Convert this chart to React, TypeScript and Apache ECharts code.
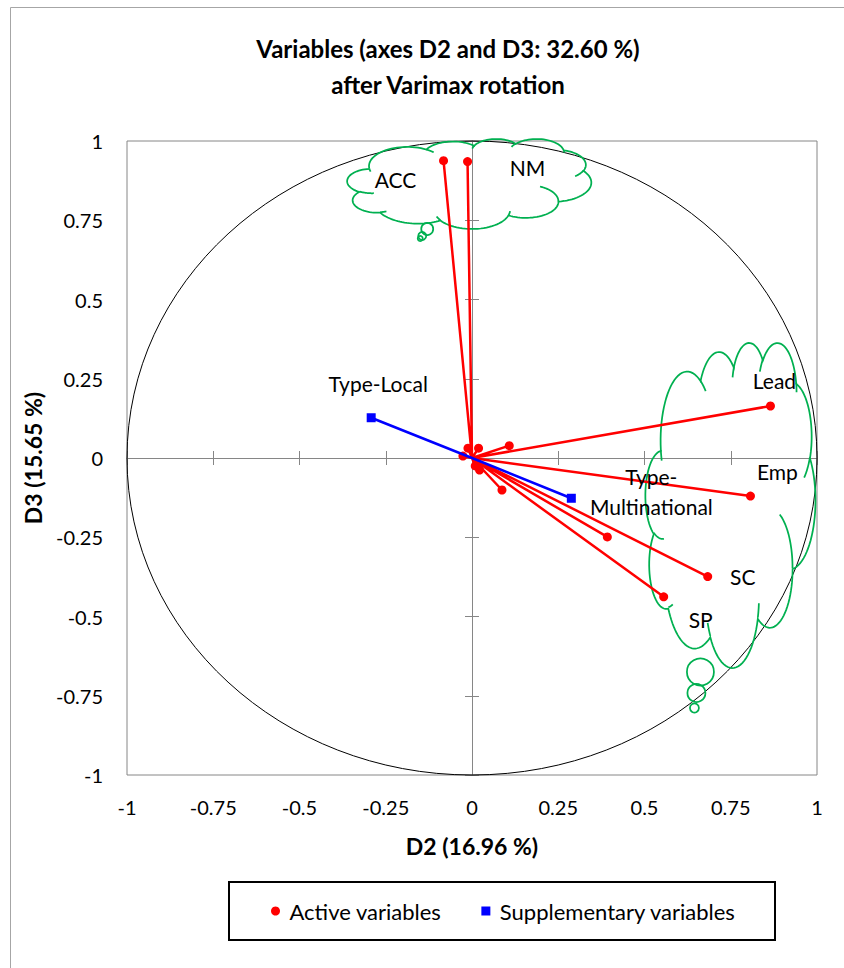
import React, { useEffect, useRef } from 'react';
import * as echarts from 'echarts';

// ---------- data ----------
const activeNames = ['ACC', 'NM', 'Lead', 'Emp', 'SC', 'SP', '', '', '', '', '', '', '', ''];
const activeX = [-0.0825, -0.0129, 0.8651, 0.8071, 0.6832, 0.5556, 0.3923, 0.0869, 0.108, -0.0117, 0.019, -0.0263, 0.0094, 0.0219];
const activeY = [0.938, 0.935, 0.164, -0.12, -0.374, -0.438, -0.249, -0.101, 0.039, 0.031, 0.031, 0.006, -0.025, -0.038];

const supNames = ['Type-Local', 'Type-\nMultinational'];
const supX = [-0.2922, 0.2879];
const supY = [0.127, -0.127];

const axisMin = -1;
const axisMax = 1;
const axisStep = 0.25;

const seriesNames = ['Active variables', 'Supplementary variables'];

// ---------- styling / annotation geometry ----------
const LABEL_OFFSETS: Record<string, [number, number]> = {
  ACC: [-48, 19],
  NM: [60, 6],
  Lead: [4, -26],
  Emp: [27, -25],
  SC: [35, 0],
  SP: [37, 23],
  'Type-Local': [7, -34],
  'Type-\nMultinational': [80, -7],
};

// cloud callouts (boxes in data coordinates) and their tail bubbles
const CLOUDS = [
  { x0: -0.3619, x1: 0.3459, y0: 1.0063, y1: 0.7224, tail: [[-0.1298, 0.7224, 6], [-0.1443, 0.7003, 4], [-0.1501, 0.6924, 2.5]] },
  { x0: 0.5025, x1: 0.9956, y0: 0.3628, y1: -0.6625, tail: [[0.6621, -0.6751, 13.5], [0.6505, -0.7413, 9], [0.6447, -0.7886, 4.5]] },
];

// Office "cloud" preset geometry (43200 x 43200 space)
const CLOUD_START = [3900, 14370];
const CLOUD_ARCS = [
  [6753, 9190, -11429249, 7426832],
  [5333, 7267, -8646143, 5396714],
  [4365, 5945, -8748475, 5983381],
  [4857, 6595, -7859164, 7034504],
  [5333, 7273, -4722533, 6541615],
  [6775, 9220, -2776035, 7816140],
  [5785, 7867, 37501, 6842000],
  [6752, 9215, 1347096, 6910353],
  [7720, 10543, 3974558, 4542661],
  [4360, 5918, -16496525, 8804134],
  [4345, 5945, -14809710, 9151131],
];
const CLOUD_CREASES = [
  [4693, 26177, 4345, 5945, 5204520, 1585770],
  [6928, 34899, 4360, 5918, 4416628, 686848],
  [16478, 39090, 6752, 9215, 8257449, 844866],
  [28827, 34751, 6752, 9215, 387196, 959901],
  [34129, 22954, 5785, 7867, -4217541, 4255042],
  [41798, 15354, 5333, 7273, 1819082, 1665090],
  [38324, 5426, 4857, 6595, -824660, 891534],
  [29078, 3952, 4857, 6595, -8950887, 1091722],
  [22141, 4720, 4365, 5945, -9809656, 1061181],
  [14000, 5192, 6753, 9190, -4002417, 739161],
  [4127, 15789, 6753, 9190, 9459261, 711490],
];

const FONT = 'Lato';
const RED = '#FF0000';
const BLUE = '#0000FF';
const GREEN = '#00B050';
const AXIS_GRAY = '#868686';

const DEG = Math.PI / 180;
function skew(theta: number, wR: number, hR: number) {
  let t = Math.atan2(wR * Math.sin(theta), hR * Math.cos(theta));
  t += 2 * Math.PI * Math.round((theta - t) / (2 * Math.PI));
  return t;
}
function arcTo(x0: number, y0: number, wR: number, hR: number, st: number, sw: number, pts: number[][]) {
  const th0 = (st / 60000) * DEG;
  const th1 = ((st + sw) / 60000) * DEG;
  const t0 = skew(th0, wR, hR);
  const t1 = skew(th1, wR, hR);
  const cx = x0 - wR * Math.cos(t0);
  const cy = y0 - hR * Math.sin(t0);
  const n = 28;
  for (let i = 1; i <= n; i++) {
    const t = t0 + ((t1 - t0) * i) / n;
    pts.push([cx + wR * Math.cos(t), cy + hR * Math.sin(t)]);
  }
  return pts[pts.length - 1];
}
function cloudGeometry() {
  const outline: number[][] = [[CLOUD_START[0], CLOUD_START[1]]];
  let cur = outline[0];
  for (const a of CLOUD_ARCS) cur = arcTo(cur[0], cur[1], a[0], a[1], a[2], a[3], outline);
  outline.push([CLOUD_START[0], CLOUD_START[1]]);
  const creases = CLOUD_CREASES.map((c) => {
    const p: number[][] = [[c[0], c[1]]];
    arcTo(c[0], c[1], c[2], c[3], c[4], c[5], p);
    return p;
  });
  let minX = Infinity, maxX = -Infinity, minY = Infinity, maxY = -Infinity;
  for (const p of outline) {
    minX = Math.min(minX, p[0]); maxX = Math.max(maxX, p[0]);
    minY = Math.min(minY, p[1]); maxY = Math.max(maxY, p[1]);
  }
  return { outline, creases, minX, maxX, minY, maxY };
}

function vectorData(names: string[], xs: number[], ys: number[]) {
  const out: any[] = [];
  names.forEach((n, i) => {
    out.push({ value: [0, 0], symbol: 'none', label: { show: false } });
    out.push({
      value: [xs[i], ys[i]],
      name: n,
      label: n
        ? { show: true, formatter: n, position: 'inside', offset: LABEL_OFFSETS[n] || [0, 0] }
        : { show: false },
    });
  });
  return out;
}

const labelStyle = {
  color: '#000',
  fontFamily: FONT,
  fontSize: 21,
  lineHeight: 30,
  align: 'center',
};

function crossX(inside: boolean) {
  return {
    type: 'value', min: axisMin, max: axisMax, interval: axisStep, position: 'bottom',
    axisLine: { show: inside, onZero: true, onZeroAxisIndex: 0, lineStyle: { color: AXIS_GRAY, width: 1 } },
    axisTick: { show: true, inside, length: 7, lineStyle: { color: AXIS_GRAY, width: 1 } },
    axisLabel: { show: false }, splitLine: { show: false },
  };
}
function crossY(inside: boolean) {
  return {
    type: 'value', min: axisMin, max: axisMax, interval: axisStep, position: 'left',
    axisLine: { show: inside, onZero: true, onZeroAxisIndex: 0, lineStyle: { color: AXIS_GRAY, width: 1 } },
    axisTick: { show: true, inside, length: 7, lineStyle: { color: AXIS_GRAY, width: 1 } },
    axisLabel: { show: false }, splitLine: { show: false },
  };
}

export default function App() {
  const ref = useRef<HTMLDivElement>(null);
  useEffect(() => {
    if (!ref.current) return;
    const chart = echarts.init(ref.current, null, { renderer: 'svg' });
    const tickLabel = { show: true, color: '#000', fontFamily: FONT, fontSize: 20 };
    chart.setOption({
      animation: false,
      backgroundColor: '#fff',
      grid: { left: 127, right: 27, top: 141, bottom: 193, show: true, borderColor: AXIS_GRAY, borderWidth: 1 },
      xAxis: [
        {
          type: 'value', min: axisMin, max: axisMax, interval: axisStep, position: 'bottom',
          axisLine: { show: false, onZero: false }, axisTick: { show: false },
          axisLabel: { ...tickLabel, margin: 22 }, splitLine: { show: false },
          name: 'D2 (16.96 %)', nameLocation: 'middle', nameGap: 59,
          nameTextStyle: { color: '#000', fontFamily: FONT, fontSize: 23, fontWeight: 'bold' },
        },
        crossX(true),
        crossX(false),
      ],
      yAxis: [
        {
          type: 'value', min: axisMin, max: axisMax, interval: axisStep, position: 'left',
          axisLine: { show: false, onZero: false }, axisTick: { show: false },
          axisLabel: { ...tickLabel, margin: 24 }, splitLine: { show: false },
          name: 'D3 (15.65 %)', nameLocation: 'middle', nameRotate: 90, nameGap: 83,
          nameTextStyle: { color: '#000', fontFamily: FONT, fontSize: 23, fontWeight: 'bold' },
        },
        crossY(true),
        crossY(false),
      ],
      legend: {
        left: 271, top: 898, itemGap: 40, itemWidth: 18, itemHeight: 9, padding: 0,
        data: [
          { name: seriesNames[0], icon: 'circle' },
          { name: seriesNames[1], icon: 'path://M0,0L10,0L10,10L0,10Z' },
        ],
        textStyle: { color: '#000', fontFamily: FONT, fontSize: 22, lineHeight: 26 },
      },
      series: [
        {
          name: seriesNames[0], type: 'line', xAxisIndex: 0, yAxisIndex: 0,
          data: vectorData(activeNames, activeX, activeY),
          symbol: 'circle', symbolSize: 9, showSymbol: true,
          itemStyle: { color: RED }, lineStyle: { color: RED, width: 2.5 },
          label: labelStyle, emphasis: { disabled: true }, z: 3,
        },
        {
          name: seriesNames[1], type: 'line', xAxisIndex: 0, yAxisIndex: 0,
          data: vectorData(supNames, supX, supY),
          symbol: 'rect', symbolSize: 9, showSymbol: true,
          itemStyle: { color: BLUE }, lineStyle: { color: BLUE, width: 2.5 },
          label: labelStyle, emphasis: { disabled: true }, z: 4,
        },
      ],
    });

    const toPx = (p: number[]) => chart.convertToPixel({ xAxisIndex: 0, yAxisIndex: 0 }, p) as number[];
    const o = toPx([0, 0]);
    const e1 = toPx([1, 1]);
    const geo = cloudGeometry();
    const graphics: any[] = [
      { type: 'rect', shape: { x: 10.5, y: 7.5, width: 900, height: 1000 }, style: { stroke: '#A6A6A6', fill: 'none', lineWidth: 1 }, z: -1, silent: true },
      { type: 'ellipse', shape: { cx: o[0], cy: o[1], rx: e1[0] - o[0], ry: o[1] - e1[1] }, style: { stroke: '#000', fill: 'none', lineWidth: 1 }, z: 1, silent: true },
      { type: 'text', x: 448, y: 48, style: { text: 'Variables (axes D2 and D3: 32.60 %)', fontFamily: FONT, fontSize: 24, fontWeight: 'bold', fill: '#000', align: 'center', verticalAlign: 'middle' } },
      { type: 'text', x: 448, y: 84, style: { text: 'after Varimax rotation', fontFamily: FONT, fontSize: 24, fontWeight: 'bold', fill: '#000', align: 'center', verticalAlign: 'middle' } },
      { type: 'rect', shape: { x: 229, y: 882, width: 546, height: 58 }, style: { stroke: '#000', fill: 'none', lineWidth: 2 }, silent: true },
    ];
    CLOUDS.forEach((c) => {
      const a = toPx([c.x0, c.y0]);
      const b = toPx([c.x1, c.y1]);
      const map = (p: number[]) => [
        a[0] + ((p[0] - geo.minX) / (geo.maxX - geo.minX)) * (b[0] - a[0]),
        a[1] + ((p[1] - geo.minY) / (geo.maxY - geo.minY)) * (b[1] - a[1]),
      ];
      graphics.push({ type: 'polyline', shape: { points: geo.outline.map(map) }, style: { stroke: GREEN, lineWidth: 1.75, fill: 'none' }, z: 1, silent: true });
      geo.creases.forEach((cr) => {
        graphics.push({ type: 'polyline', shape: { points: cr.map(map) }, style: { stroke: GREEN, lineWidth: 1.75, fill: 'none' }, z: 1, silent: true });
      });
      c.tail.forEach((t) => {
        const p = toPx([t[0], t[1]]);
        graphics.push({ type: 'circle', shape: { cx: p[0], cy: p[1], r: t[2] }, style: { stroke: GREEN, lineWidth: 1.75, fill: 'none' }, z: 1, silent: true });
      });
    });
    chart.setOption({ graphic: graphics });
    return () => chart.dispose();
  }, []);
  return <div ref={ref} style={{ position: 'absolute', left: 0, top: 0, width: 844, height: 968 }} />;
}
